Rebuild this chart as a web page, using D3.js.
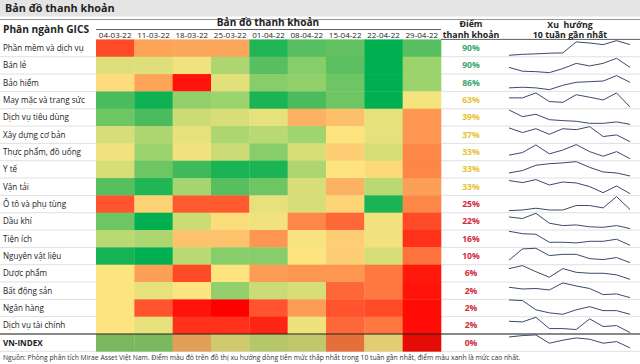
<!DOCTYPE html>
<html><head><meta charset="utf-8">
<script src="https://cdn.jsdelivr.net/npm/d3@7"></script>
<style>
html,body{margin:0;padding:0;background:#fff;}
svg{display:block;font-family:"Open Sans","Noto Sans",sans-serif;}
</style></head>
<body><svg id="c" width="640" height="364"></svg>
<script>
const sectors = ["Phần mềm và dịch vụ","Bán lẻ","Bảo hiểm","May mặc và trang sức","Dịch vụ tiêu dùng","Xây dựng cơ bản","Thực phẩm, đồ uống","Y tế","Vận tải","Ô tô và phụ tùng","Dầu khí","Tiện ích","Nguyên vật liệu","Dược phẩm","Bất động sản","Ngân hàng","Dịch vụ tài chính","VN-INDEX"];
const weeks = ["04-03-22","11-03-22","18-03-22","25-03-22","01-04-22","08-04-22","15-04-22","22-04-22","29-04-22"];
// liquidity heat score per sector & week (0 = lowest, 100 = highest)
const heatSoftware   = [12,32,33,33,95,87,85,100,87];
const heatRetail     = [58,58,53,70,87,78,86,100,74];
const heatInsurance  = [48,32,3,57,78,76,83,100,74];
const heatApparel    = [89,98,76,74,96,89,83,100,52];
const heatConsumer   = [83,89,63,60,56,36,40,56,28];
const heatConstruct  = [60,70,56,70,67,73,50,56,28];
const heatFood       = [53,74,53,63,78,60,44,60,24];
const heatHealth     = [60,83,91,96,96,70,50,47,24];
const heatTransport  = [87,95,72,87,83,60,36,67,31];
const heatAuto       = [14,45,15,15,56,60,46,96,24];
const heatOilGas     = [83,100,63,48,53,24,18,53,12];
const heatUtilities  = [67,70,41,41,28,51,44,53,8];
const heatMaterials  = [97,100,67,78,78,50,44,60,20];
const heatPharma     = [50,31,12,50,30,28,28,21,4];
const heatRealEstate = [50,56,50,76,63,60,18,21,3];
const heatBanks      = [50,14,3,0,14,30,14,12,2];
const heatFinancial  = [50,56,8,8,6,54,18,21,2];
const heatVnIndex    = [78,78,36,56,63,60,22,50,2];
const heatRows = [heatSoftware,heatRetail,heatInsurance,heatApparel,heatConsumer,heatConstruct,heatFood,heatHealth,heatTransport,heatAuto,heatOilGas,heatUtilities,heatMaterials,heatPharma,heatRealEstate,heatBanks,heatFinancial,heatVnIndex];
const scores = [90,90,86,63,39,37,33,33,33,25,22,16,10,6,2,2,2,0];
// 10-week trend (relative level within each row)
const trendSoftware   = [4,10,13,17,19,88,81,71,96,71];
const trendRetail     = [37,13,10,4,29,62,46,62,94,37];
const trendInsurance  = [17,21,17,6,33,52,56,60,94,52];
const trendApparel    = [63,63,94,40,35,83,67,50,94,6];
const trendConsumer   = [96,54,69,35,29,25,12,12,21,6];
const trendConstruct  = [92,63,87,52,87,81,100,38,48,6];
const trendFood       = [30,46,94,38,62,96,52,23,52,8];
const trendHealth     = [27,42,75,85,90,98,62,33,27,8];
const trendTransport  = [88,75,94,60,79,73,50,12,54,6];
const trendAuto       = [8,12,23,12,12,40,40,25,96,15];
const trendOilGas     = [77,67,100,38,23,27,15,12,23,4];
const trendUtilities  = [96,81,77,27,27,23,33,33,46,8];
const trendMaterials  = [23,94,98,52,60,60,33,27,40,8];
const trendPharma     = [79,98,60,25,79,56,50,50,40,12];
const trendRealEstate = [71,60,63,54,98,79,63,25,29,6];
const trendBanks      = [100,96,38,19,10,38,58,33,33,10];
const trendFinancial  = [75,71,100,29,29,23,90,42,48,4];
const trendVnIndex    = [85,94,98,46,65,79,71,46,56,17];
const trendRows = [trendSoftware,trendRetail,trendInsurance,trendApparel,trendConsumer,trendConstruct,trendFood,trendHealth,trendTransport,trendAuto,trendOilGas,trendUtilities,trendMaterials,trendPharma,trendRealEstate,trendBanks,trendFinancial,trendVnIndex];
const colorStops = [0,12,25,38,50,62,75,88,100];
const colorRange = ["#ff0000","#ff4a28","#fd8c4a","#fdb866","#fde47f","#cfdd77","#97d26c","#52bd5e","#00b050"];
const footnote = "Nguồn: Phòng phân tích Mirae Asset Việt Nam. Điểm màu đỏ trên đồ thị xu hướng dòng tiền mức thấp nhất trong 10 tuần gần nhất, điểm màu xanh là mức cao nhất.";

const svg = d3.select("#c");
const W = 640;
const rowTop = 39.4, rowH = 17.33;
const heatX0 = 96, heatX1 = 441;
const scoreX = 471;
const sparkX0 = 509, sparkX1 = 630;

const y = d3.scaleBand().domain(sectors).range([rowTop, rowTop + rowH*sectors.length]).padding(0);
const x = d3.scaleBand().domain(weeks).range([heatX0, heatX1]).padding(0);
const color = d3.scaleLinear().domain(colorStops).range(colorRange).interpolate(d3.interpolateRgb);
const scoreColor = d3.scaleThreshold().domain([30,80]).range(["#d42a3c","#e8c130","#35a86e"]);

// title band
svg.append("rect").attr("x",0).attr("y",0).attr("width",W).attr("height",16.5).attr("fill","#e4e4e4");
svg.append("text").attr("x",5).attr("y",8.3).attr("dy","0.35em").attr("font-size",10.8).attr("font-weight",700).attr("fill","#222").text("Bản đồ thanh khoản");
svg.append("line").attr("x1",0).attr("x2",W).attr("y1",19.5).attr("y2",19.5).attr("stroke","#7a7a7a").attr("stroke-width",0.8);

// headers
svg.append("text").attr("x",3).attr("y",29).attr("dy","0.35em").attr("font-size",10.2).attr("font-weight",700).attr("fill","#222").text("Phân ngành GICS");
svg.append("text").attr("x",268).attr("y",25.9).attr("text-anchor","middle").attr("font-size",10.1).attr("font-weight",700).attr("fill","#222").text("Bản đồ thanh khoản");
svg.append("line").attr("x1",heatX0).attr("x2",heatX1).attr("y1",29.5).attr("y2",29.5).attr("stroke","#333").attr("stroke-width",0.8);

const xAxis = d3.axisTop(x).tickSize(0).tickPadding(0);
const gx = svg.append("g").attr("transform",`translate(0,38)`).call(xAxis);
gx.select(".domain").remove();
gx.selectAll("text").attr("font-size",8).attr("fill","#222").attr("font-family","'Open Sans',sans-serif");

svg.append("text").attr("x",scoreX).attr("y",24).attr("dy","0.35em").attr("text-anchor","middle").attr("font-size",8.8).attr("font-weight",700).attr("fill","#222").text("Điểm");
svg.append("text").attr("x",scoreX).attr("y",35).attr("dy","0.35em").attr("text-anchor","middle").attr("font-size",8.8).attr("font-weight",700).attr("fill","#222").text("thanh khoản");
svg.append("text").attr("x",570).attr("y",24.5).attr("dy","0.35em").attr("text-anchor","middle").attr("font-size",8.8).attr("font-weight",700).attr("fill","#222").attr("xml:space","preserve").text("Xu  hướng");
svg.append("text").attr("x",570).attr("y",35).attr("dy","0.35em").attr("text-anchor","middle").attr("font-size",8.8).attr("font-weight",700).attr("fill","#222").text("10 tuần gần nhất");
svg.append("line").attr("x1",heatX1).attr("x2",W).attr("y1",rowTop).attr("y2",rowTop).attr("stroke","#333").attr("stroke-width",0.8);

// row separators
const seps = d3.range(1, sectors.length+1).map(i => rowTop + rowH*i);
seps.forEach(s => {
  svg.append("line").attr("x1",0).attr("x2",W).attr("y1",s).attr("y2",s).attr("stroke","#d8d8d8").attr("stroke-width",0.8);
});

// heatmap cells
const cells = [];
heatRows.forEach((row,i) => row.forEach((v,j) => cells.push({s:sectors[i], w:weeks[j], v, idx:i})));
svg.append("g").selectAll("rect").data(cells).join("rect")
  .attr("x",d=>x(d.w)).attr("y",d=>y(d.s))
  .attr("width",x.bandwidth()+0.3).attr("height",y.bandwidth()+0.3)
  .attr("fill",d=>{
    const c = d3.color(color(d.v));
    return d.s === "VN-INDEX" ? c.darker(0.3).formatHex() : c.formatHex();
  });

// VN-INDEX separator
svg.append("line").attr("x1",0).attr("x2",W).attr("y1",y("VN-INDEX")).attr("y2",y("VN-INDEX")).attr("stroke","#222").attr("stroke-width",1);

// labels
svg.append("g").selectAll("text").data(sectors).join("text")
  .attr("x",3).attr("y",d=>y(d)+rowH/2).attr("dy","0.35em")
  .attr("font-size",8.1).attr("fill","#222")
  .attr("font-weight",d=>d==="VN-INDEX"?700:400)
  .text(d=>d);

// scores
svg.append("g").selectAll("text").data(scores).join("text")
  .attr("x",scoreX).attr("y",(d,i)=>y(sectors[i])+rowH/2).attr("dy","0.35em")
  .attr("text-anchor","middle").attr("font-size",8.6).attr("font-weight",700)
  .attr("fill",d=>scoreColor(d)).text(d=>d+"%");

// sparklines
const sx = d3.scaleLinear().domain([0,9]).range([sparkX0, sparkX1]);
const sg = svg.append("g");
trendRows.forEach((row,i) => {
  const top = y(sectors[i]);
  const sy = d3.scaleLinear().domain([0,100]).range([top+rowH-0.8, top+0.6]);
  const line = d3.line().x((d,k)=>sx(k)).y(d=>sy(d));
  sg.append("path").attr("d",line(row)).attr("fill","none").attr("stroke","#3b4a6b").attr("stroke-width",1);
});

// footnote
svg.append("text").attr("x",3).attr("y",357.5).attr("dy","0.35em").attr("font-size",6.75).attr("fill","#333").text(footnote);
</script></body></html>
